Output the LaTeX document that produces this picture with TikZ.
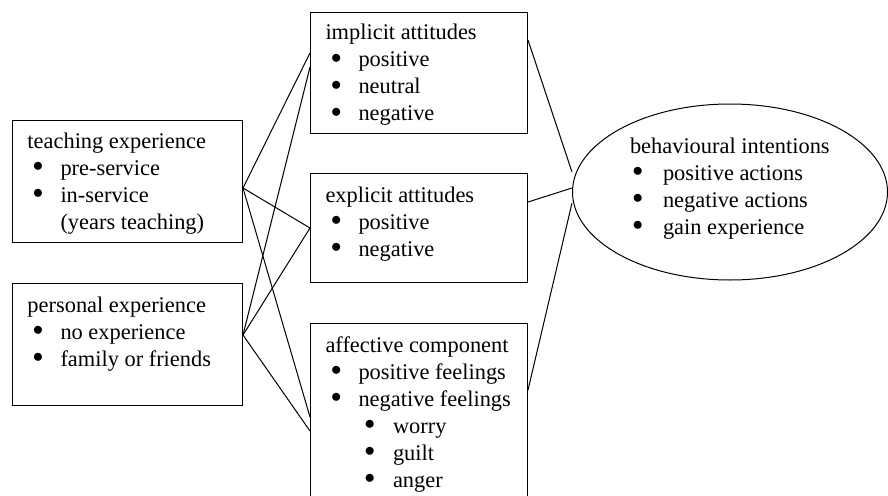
\documentclass[tikz,border=0pt]{standalone}
\usepackage{fontspec}
\setmainfont{Liberation Serif}
\usetikzlibrary{calc,shapes.geometric}
\newcommand{\Bul}{\raisebox{3.8pt}{$\bullet$}}
\newcommand{\Ttl}[2][28pt]{\hbox to\hsize{\rule{0pt}{#1}\hspace{15pt}#2\hfil}}
\newcommand{\Itm}[1]{\hbox to\hsize{\hspace{20.5pt}\makebox[27.5pt][l]{\Bul}#1\hfil}}
\newcommand{\SubItm}[1]{\hbox to\hsize{\hspace{54pt}\makebox[28.5pt][l]{\Bul}#1\hfil}}
\newcommand{\Cont}[1]{\hbox to\hsize{\hspace{48pt}#1\hfil}}
\newcommand{\ETtl}[1]{\hbox to\hsize{#1\hfil}}
\newcommand{\EItm}[1]{\hbox to\hsize{\hspace{2.5pt}\makebox[30.5pt][l]{\Bul}#1\hfil}}
\begin{document}
\begin{tikzpicture}[x=1pt,y=-1pt,
  every node/.style={font=\fontsize{22.4}{27}\selectfont},
  box/.style={draw,line width=1pt,inner sep=0pt,anchor=north west},
  conn/.style={line width=1pt}]
\useasboundingbox (0,0) rectangle (888,495);
\clip (0,0) rectangle (888,495);

\node[box] (teach) at (12,120) {\parbox[t][122pt][t]{230pt}{%
  \Ttl[27.5pt]{teaching experience}
  \Itm{pre-service}
  \Itm{in-service}
  \Cont{(years teaching)}}};
\node[box] (pers) at (12,283) {\parbox[t][122pt][t]{230pt}{%
  \Ttl[29pt]{personal experience}
  \Itm{no experience}
  \Itm{family or friends}}};

\node[box] (impl) at (310,12) {\parbox[t][121pt][t]{217pt}{%
  \Ttl[27.5pt]{implicit attitudes}
  \Itm{positive}
  \Itm{neutral}
  \Itm{negative}}};
\node[box] (expl) at (310,173) {\parbox[t][109pt][t]{217pt}{%
  \Ttl[28.5pt]{explicit attitudes}
  \Itm{positive}
  \Itm{negative}}};
\node[box] (aff) at (310,323) {\parbox[t][200pt][t]{217pt}{%
  \Ttl[29pt]{affective component}
  \Itm{positive feelings}
  \Itm{negative feelings}
  \SubItm{worry}
  \SubItm{guilt}
  \SubItm{anger}}};

\node[draw,line width=1pt,ellipse,inner sep=0pt,minimum width=315pt,minimum height=176pt] (ell) at (730,192)
  {\raisebox{39pt}[0pt][0pt]{\makebox[0pt][l]{\hspace{-100pt}\parbox[t]{210pt}{%
  \ETtl{behavioural intentions}
  \EItm{positive actions}
  \EItm{negative actions}
  \EItm{gain experience}}}}};

% left connectors
\draw[conn] ($(teach.north east)+(0,68)$) -- ($(impl.north west)+(0,41)$);
\draw[conn] ($(teach.north east)+(0,68)$) -- ($(expl.north west)+(0,55)$);
\draw[conn] ($(teach.north east)+(0,68)$) -- ($(aff.north west)+(0,94)$);
\draw[conn] ($(pers.north east)+(0,52)$) -- ($(impl.north west)+(0,55)$);
\draw[conn] ($(pers.north east)+(0,52)$) -- ($(expl.north west)+(0,55)$);
\draw[conn] ($(pers.north east)+(0,52)$) -- ($(aff.north west)+(0,108)$);
% right connectors
\draw[conn] ($(impl.north east)+(0,28)$) -- ($(ell.west)+(0,-20)$);
\draw[conn] ($(expl.north east)+(0,29)$) -- ($(ell.west)+(0,-4)$);
\draw[conn] ($(aff.north east)+(0,67)$) -- ($(ell.west)+(0,11)$);
\end{tikzpicture}
\end{document}
